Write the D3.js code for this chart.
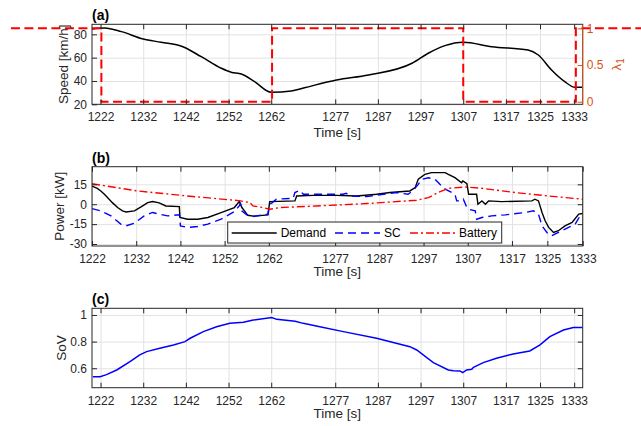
<!DOCTYPE html>
<html>
<head>
<meta charset="utf-8">
<script src="https://cdn.jsdelivr.net/npm/d3@7"></script>
<style>
  body { margin: 0; background: #fff; }
  svg { color: #262626; }
  svg text { font-family: "Liberation Sans", Arial, Helvetica, sans-serif; }
  .ax text { font-size: 12px; }
  .grid line { stroke: #e2e2e2; stroke-width: 1; }
  .grid .domain { display: none; }
</style>
</head>
<body>
<div id="chart"></div>
<script>
// shared x ticks (time in s)
const timeTicks = [1222, 1232, 1242, 1252, 1262, 1277, 1287, 1297, 1307, 1317, 1325, 1333];

// (a) vehicle speed [km/h]
const speedTime = [1220, 1223, 1226.9, 1232, 1236.2, 1241.3, 1245.6, 1250.3, 1252.6, 1255, 1258.1, 1262, 1266.7, 1269.8,
  1277.3, 1284.8, 1295, 1298.8, 1302.7, 1307, 1313.7, 1322.2, 1324.6, 1327.7, 1330.8, 1333.2, 1335];
const speedVal = [84.6, 85.5, 82.3, 76, 73.2, 69.4, 60.8, 50.9, 47.5, 46, 39.4, 30.3, 31.4, 34.2,
  40.8, 45.1, 55.2, 63.8, 70.3, 73.2, 69.4, 66.6, 62.3, 49.4, 39.4, 34.6, 34.6];

// (a) lambda_1 (right axis)
const lambdaTime = [1201, 1222.2, 1222.2, 1262.2, 1262.2, 1307, 1307, 1333.4, 1333.4, 1349];
const lambdaVal = [1, 1, 0, 0, 1, 1, 0, 0, 1, 1];

// (b) power [kW]
const demandTime = [1222, 1223.2, 1224, 1224.8, 1225.5, 1226.6, 1227.8, 1228.9, 1229.7, 1231.6, 1233.1, 1234.6, 1235.7,
  1237.2, 1238.7, 1241.75, 1241.9, 1243.6, 1245.9, 1248.2, 1251.2, 1254.2, 1255.3, 1255.9, 1256.5, 1257.2, 1258.5,
  1261.8, 1262.2, 1267.9, 1268.3, 1272, 1277.3, 1281.9, 1286.4, 1289.4, 1293.9, 1295.1, 1295.8, 1297.3, 1298.8,
  1301.9, 1302.6, 1304.1, 1305.6, 1305.9, 1306.8, 1307.2, 1309, 1309.3, 1310.2, 1311, 1311.7, 1314.7, 1321.5,
  1322.2, 1323, 1323.8, 1324.5, 1325.3, 1326.4, 1327.5, 1329, 1330.6, 1332.1, 1333];
const demandVal = [13.7, 12, 10, 7.5, 5, 1.2, -2.5, -5, -5.8, -5, -2, 1.2, 2,
  1, -1.3, -1.8, -10, -11.3, -11.3, -10, -6.3, -2.5, 2, -2.5, -5, -8.3, -9,
  -8, 2, 2.5, 6.2, 6.7, 6.7, 6.2, 7.5, 8.8, 10, 12.5, 18.8, 22.5, 23.8,
  23.8, 22.5, 20, 16.2, 17.5, 15.5, 7.5, 7.5, 0, 2.5, 0, 2.5, 2, 2.5,
  3.8, 2.5, -6.2, -12.5, -17.5, -21.3, -20, -16.3, -13.7, -7.5, -7];

const scTime = [1222, 1224, 1226.3, 1228.5, 1229.7, 1231.6, 1233.8, 1235.7, 1237.2, 1239.1, 1241.8, 1242, 1243.6,
  1245.9, 1248.2, 1251.2, 1254.2, 1255.3, 1255.6, 1255.9, 1256.8, 1258, 1261.8, 1262.2, 1262.8, 1263.7, 1267.5,
  1267.9, 1269, 1269.8, 1272.2, 1278.8, 1279.5, 1280.3, 1284.1, 1287.9, 1290.9, 1293.5, 1294.7, 1295.8, 1296.6,
  1298.1, 1299.6, 1300.7, 1301.9, 1303.4, 1304.1, 1304.5, 1305.6, 1306, 1306.8, 1307.2, 1308.7, 1309, 1310.2,
  1312.4, 1315.5, 1320, 1321.9, 1323, 1323.8, 1324.9, 1326, 1327.5, 1329.8, 1331.3, 1332.4, 1333];
const scVal = [-3.3, -5, -8.8, -15, -16.3, -14.3, -8.8, -6.2, -7.5, -8.8, -8, -16.3, -17.5,
  -16.8, -15, -11.3, -5.5, -1.3, 0.5, -5, -7.5, -9.5, -7.5, 0, 1.2, 3.8, 4.5,
  8.8, 10.5, 7.5, 7.5, 7.5, 8.3, 6.2, 5.7, 7.5, 8.8, 7.5, 10.5, 15, 18.8,
  20, 18.8, 15, 11.3, 8.8, 7.5, 2.5, 2.5, 3.8, -2.5, -3.8, -5, -11.3, -10,
  -8.8, -8, -6.2, -5, -7.5, -16.3, -21.3, -23.8, -21.3, -17.5, -15, -8.8, -9.5];

const batteryTime = [1222, 1232.3, 1243.6, 1254.2, 1255.6, 1257.7, 1258.4, 1260.7, 1262.2, 1264.5, 1272.8,
  1284.1, 1295.4, 1298.1, 1300.3, 1302.6, 1306.4, 1310.2, 1317.7, 1325.3, 1333];
const batteryVal = [15.5, 10, 6.2, 3, 2.5, 1.2, -1.3, -2.5, -3.8, -2.5, -1.3,
  0.5, 3, 5, 8.8, 12, 13, 12, 8.8, 6.2, 3.8];

const powerNames = ["Demand", "SC", "Battery"];

// (c) state of voltage
const sovTime = [1220.2, 1221.9, 1223.4, 1225.8, 1228.9, 1231.2, 1232.8, 1235.9, 1239.1, 1241.8, 1243, 1246.1,
  1249.2, 1252.3, 1255.5, 1257.8, 1262.1, 1263.3, 1267.6, 1269.5, 1273.4, 1278.9, 1286.7, 1294.5, 1296.1, 1300,
  1303.5, 1304.7, 1306.2, 1306.9, 1307.8, 1309, 1309.4, 1311.7, 1314.8, 1318.7, 1322.6, 1325, 1327.3, 1330.5,
  1332.8, 1335];
const sovVal = [0.537, 0.537, 0.552, 0.587, 0.65, 0.70, 0.725, 0.75, 0.775, 0.80, 0.825, 0.875,
  0.912, 0.937, 0.945, 0.962, 0.98, 0.967, 0.952, 0.937, 0.912, 0.875, 0.825, 0.762, 0.737, 0.642,
  0.587, 0.582, 0.58, 0.567, 0.587, 0.592, 0.607, 0.642, 0.675, 0.707, 0.73, 0.775, 0.837, 0.887,
  0.905, 0.905];

const orange = "#D95319";
const axLeft = 92, axRight = 582.7;

const svg = d3.select("#chart").append("svg")
  .attr("width", 641).attr("height", 426);

const zip = (ts, vs) => ts.map((t, i) => [t, vs[i]]);

function panel(cfg) {
  const w = axRight - axLeft, h = cfg.bottom - cfg.top;
  const g = svg.append("g").attr("transform", `translate(${axLeft},${cfg.top})`);
  const x = d3.scaleLinear().domain(cfg.xDomain).range([0, w]);
  const y = d3.scaleLinear().domain(cfg.yDomain).range([h, 0]);

  // grid
  g.append("g").attr("class", "grid").attr("transform", `translate(0,${h})`)
    .call(d3.axisBottom(x).tickValues(timeTicks).tickSize(-h).tickFormat(""));
  g.append("g").attr("class", "grid")
    .call(d3.axisLeft(y).tickValues(cfg.yTicks).tickSize(-w).tickFormat(""));

  g.append("clipPath").attr("id", "clip-" + cfg.name)
    .append("rect").attr("width", w).attr("height", h);
  const data = g.append("g").attr("clip-path", `url(#clip-${cfg.name})`);
  const over = g.append("g");
  const axes = g.append("g");

  axes.append("g").attr("class", "ax").attr("transform", `translate(0,${h})`)
    .call(d3.axisBottom(x).tickValues(timeTicks).tickSizeInner(-5).tickSizeOuter(0)
      .tickPadding(8.5).tickFormat(d3.format("d")));
  axes.append("g").attr("class", "ax")
    .call(d3.axisTop(x).tickValues(timeTicks).tickSizeInner(-5).tickSizeOuter(0).tickFormat(""));
  axes.append("g").attr("class", "ax")
    .call(d3.axisLeft(y).tickValues(cfg.yTicks).tickSizeInner(-5).tickSizeOuter(0)
      .tickPadding(5).tickFormat(d => String(d)));
  if (!cfg.noRightTicks) {
    axes.append("g").attr("class", "ax").attr("transform", `translate(${w},0)`)
      .call(d3.axisRight(y).tickValues(cfg.yTicks).tickSizeInner(-5).tickSizeOuter(0).tickFormat(""));
  }
  axes.selectAll(".ax .domain").remove();
  axes.append("rect").attr("width", w).attr("height", h)
    .attr("fill", "none").attr("stroke", "#262626").attr("stroke-width", 1);

  // panel letter
  g.append("text").attr("x", 0).attr("y", -4)
    .attr("font-size", 14).attr("font-weight", "bold").attr("fill", "#000")
    .text(cfg.letter);
  // axis labels
  g.append("text").attr("x", w / 2).attr("y", h + cfg.xLabelOff)
    .attr("text-anchor", "middle").attr("font-size", 13.5).attr("fill", "#262626")
    .text("Time [s]");
  g.append("text").attr("transform", `translate(${cfg.yLabelOff},${h / 2}) rotate(-90)`)
    .attr("text-anchor", "middle").attr("font-size", 13.5).attr("fill", "#262626")
    .text(cfg.yLabel);

  return {g, x, y, w, h, data, over, axes};
}

// ---------- (a) ----------
const pa = panel({name: "a", letter: "(a)", top: 24.3, bottom: 104.3, xDomain: [1220, 1335],
  yDomain: [20, 88.6], yTicks: [20, 40, 60, 80], yLabel: "Speed [km/h]",
  xLabelOff: 33, yLabelOff: -24.5, noRightTicks: true});

pa.data.append("path")
  .datum(zip(speedTime, speedVal))
  .attr("fill", "none").attr("stroke", "#000").attr("stroke-width", 1.5)
  .attr("d", d3.line().x(d => pa.x(d[0])).y(d => pa.y(d[1])).curve(d3.curveMonotoneX));

const yR = d3.scaleLinear().domain([-0.035, 1.055]).range([pa.h, 0]);
pa.over.append("path")
  .datum(zip(lambdaTime, lambdaVal))
  .attr("fill", "none").attr("stroke", "#ff0000").attr("stroke-width", 2)
  .attr("stroke-dasharray", "9,4.5")
  .attr("d", d3.line().x(d => pa.x(d[0])).y(d => yR(d[1])));

const rAx = pa.axes.append("g").attr("class", "ax").attr("transform", `translate(${pa.w},0)`)
  .style("color", orange)
  .call(d3.axisRight(yR).tickValues([0, 0.5, 1]).tickSizeInner(-5).tickSizeOuter(0)
    .tickPadding(4).tickFormat(d => String(d)));
rAx.select(".domain").remove();
pa.axes.append("line").attr("x1", pa.w).attr("x2", pa.w).attr("y1", 0).attr("y2", pa.h)
  .attr("stroke", orange).attr("stroke-width", 1);
const lam = pa.g.append("text")
  .attr("transform", `translate(${pa.w + 38},${pa.h / 2}) rotate(-90)`)
  .attr("text-anchor", "middle").attr("font-size", 13.5).attr("fill", orange);
lam.append("tspan").text("λ");
lam.append("tspan").attr("font-size", 10).attr("dy", 3).text("1");

// ---------- (b) ----------
const pb = panel({name: "b", letter: "(b)", top: 166.7, bottom: 246, xDomain: [1222, 1333],
  yDomain: [-31.5, 28.3], yTicks: [-30, -15, 0, 15], yLabel: "Power [kW]",
  xLabelOff: 30.5, yLabelOff: -28});

const powerSeries = [
  {name: powerNames[0], pts: zip(demandTime, demandVal), color: "#000", dash: null},
  {name: powerNames[1], pts: zip(scTime, scVal), color: "#0000ff", dash: "8,5"},
  {name: powerNames[2], pts: zip(batteryTime, batteryVal), color: "#ff0000", dash: "8,3,2,3"}
];
const powerLine = d3.line().x(p => pb.x(p[0])).y(p => pb.y(p[1]));
pb.data.selectAll("path.pw").data(powerSeries).join("path")
  .attr("class", "pw")
  .attr("fill", "none")
  .attr("stroke", d => d.color).attr("stroke-width", 1.4)
  .attr("stroke-dasharray", d => d.dash)
  .attr("d", d => powerLine(d.pts));

// legend
const leg = pb.axes.append("g").attr("transform", "translate(135.7,55.3)");
leg.append("rect").attr("width", 274).attr("height", 21)
  .attr("fill", "#fff").attr("stroke", "#262626").attr("stroke-width", 1);
const legX = [4, 107.3, 182.3];
const item = leg.selectAll("g.item").data(powerSeries).join("g")
  .attr("class", "item").attr("transform", (d, i) => `translate(${legX[i]},0)`);
item.append("line").attr("x1", 0).attr("x2", 45).attr("y1", 11).attr("y2", 11)
  .attr("stroke", d => d.color).attr("stroke-width", 1.4)
  .attr("stroke-dasharray", d => d.dash);
item.append("text").attr("x", 49).attr("y", 15.3)
  .attr("font-size", 12).attr("fill", "#000").text(d => d.name);

// ---------- (c) ----------
const pc = panel({name: "c", letter: "(c)", top: 308.3, bottom: 387.7, xDomain: [1220, 1335],
  yDomain: [0.454, 1.05], yTicks: [0.6, 0.8, 1], yLabel: "SoV",
  xLabelOff: 30.5, yLabelOff: -26});

pc.data.append("path")
  .datum(zip(sovTime, sovVal))
  .attr("fill", "none").attr("stroke", "#0000ff").attr("stroke-width", 1.5)
  .attr("d", d3.line().x(d => pc.x(d[0])).y(d => pc.y(d[1])));
</script>
</body>
</html>
